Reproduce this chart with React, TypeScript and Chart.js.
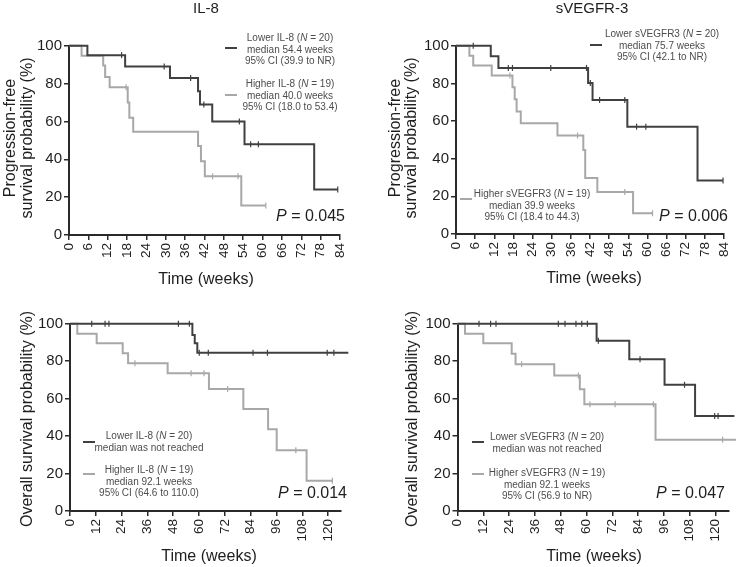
import React, { useEffect, useRef } from 'react';
import { Chart, registerables } from 'chart.js';
Chart.register(...registerables);

// ---------------- DATA ----------------
const yTicks = [0, 20, 40, 60, 80, 100];
const pfsTicks = [0, 6, 12, 18, 24, 30, 36, 42, 48, 54, 60, 66, 72, 78, 84];
const osTicks = [0, 12, 24, 36, 48, 60, 72, 84, 96, 108, 120];

const panelTitles = ['IL-8', 'sVEGFR-3'];
const il8Groups = ['Lower IL-8', 'Higher IL-8'];
const sv3Groups = ['Lower sVEGFR3', 'Higher sVEGFR3'];
const groupN = [20, 19];
const pfsIl8Stats = [['median 54.4 weeks', '95% CI (39.9 to NR)'], ['median 40.0 weeks', '95% CI (18.0 to 53.4)']];
const pfsSv3Stats = [['median 75.7 weeks', '95% CI (42.1 to NR)'], ['median 39.9 weeks', '95% CI (18.4 to 44.3)']];
const osIl8Stats = [['median was not reached'], ['median 92.1 weeks', '95% CI (64.6 to 110.0)']];
const osSv3Stats = [['median was not reached'], ['median 92.1 weeks', '95% CI (56.9 to NR)']];
const pValues = ['0.045', '0.006', '0.014', '0.047'];

// PFS by IL-8
const pfsIl8LowT = [5.7, 17.4, 31.3, 40.0, 40.6, 44.4, 54.4, 76.0];
const pfsIl8LowS = [95, 89, 83, 76, 69, 60, 48, 24];
const pfsIl8LowC = [16.3, 29.5, 37.7, 41.8, 52.8, 56.3, 58.7, 83.3];
const pfsIl8HighT = [3.9, 10.6, 11.2, 12.6, 18.2, 18.7, 19.9, 40.0, 40.9, 42.1, 53.4];
const pfsIl8HighS = [94.7, 89.5, 83.5, 78, 70, 62, 54.6, 47, 39, 31, 15.6];
const pfsIl8HighC = [17.7, 44.5, 52.4, 61.0];

// PFS by sVEGFR3
const pfsSv3LowT = [10.9, 13.3, 41.4, 42.8, 53.7, 75.7];
const pfsSv3LowS = [94.4, 88.2, 80.2, 71.2, 57.0, 28.4];
const pfsSv3LowC = [5.4, 16.4, 17.7, 29.7, 40.9, 42.1, 45.0, 52.9, 56.6, 59.5, 83.7];
const pfsSv3HighT = [4.2, 5.4, 11.2, 17.7, 18.4, 19.0, 20.3, 31.8, 39.9, 40.5, 44.3, 55.5];
const pfsSv3HighS = [94.7, 89.5, 84.2, 78, 71.5, 65, 58.8, 52.3, 44.6, 29.8, 22.3, 11];
const pfsSv3HighC = [16.9, 38.1, 52.9, 61.6];

// OS by IL-8
const osIl8LowT = [56.9, 58.0, 59.2];
const osIl8LowS = [94, 89.5, 84.5];
const osIl8LowC = [10.1, 16.3, 18.1, 50.4, 55.5, 60.1, 64.3, 85.1, 91.8, 119.6, 122.7, 129.4];
const osIl8HighT = [3.4, 12.4, 24.5, 27.0, 45.4, 64.6, 80.6, 92.1, 96.1, 110.0];
const osIl8HighS = [94.7, 89.5, 84.2, 78.9, 73.5, 65.1, 54.5, 43.6, 32.5, 16.2];
const osIl8HighC = [30.2, 56.3, 62.3, 73.3, 105.0, 122.0];

// OS by sVEGFR3
const osSv3LowT = [64.7, 79.9, 96.3, 110.5];
const osSv3LowS = [90.9, 81.0, 67.4, 50.7];
const osSv3LowC = [10.0, 15.4, 17.9, 46.9, 50.0, 55.1, 57.8, 60.4, 65.5, 84.9, 105.6, 119.6, 121.2, 128.8];
const osSv3HighT = [3.5, 12.0, 25.2, 27.0, 45.0, 56.9, 59.0, 92.1];
const osSv3HighS = [94.7, 89.5, 84.0, 78.4, 72.4, 65.0, 57.0, 38.1];
const osSv3HighC = [29.8, 56.2, 61.6, 73.3, 91.1, 123.3];
const osSv3HighEnd = 130;

// ---------------- STYLE ----------------
const FONT = "'Liberation Sans', Arial, Helvetica, sans-serif";
const DARK = '#404040';
const LIGHT = '#a8a8a8';
const AXIS = '#2a2a2a';
const TEXT = '#1e1e1e';
const LEG = '#4d4d4d';
const W = 736;
const H = 567;

type Curve = { t: number[]; s: number[]; c: number[]; end?: number; color: string };

function survAt(t: number[], s: number[], x: number) {
  let v = 100;
  t.forEach((tt, i) => { if (tt <= x) v = s[i]; });
  return v;
}

function curveDatasets(cv: Curve) {
  const pts = [{ x: 0, y: 100 }];
  cv.t.forEach((tt, i) => pts.push({ x: tt, y: cv.s[i] }));
  const last = Math.max(cv.end ?? 0, ...cv.c, cv.t[cv.t.length - 1]);
  pts.push({ x: last, y: cv.s[cv.s.length - 1] });
  return [
    {
      data: pts,
      stepped: 'before' as const,
      borderColor: cv.color,
      borderWidth: 2,
      pointRadius: 0,
      fill: false,
      clip: false as any,
    },
    {
      data: cv.c.map((x) => ({ x, y: survAt(cv.t, cv.s, x) })),
      showLine: false,
      pointStyle: 'line' as const,
      rotation: 90,
      pointRadius: 3,
      borderColor: cv.color,
      backgroundColor: cv.color,
      borderWidth: 1.2,
      clip: false as any,
    },
  ];
}

type Seg = { t: string; i?: boolean };

function drawRich(ctx: CanvasRenderingContext2D, segs: Seg[], x: number, y: number, size: number, color: string, align: 'left' | 'center' | 'right') {
  const widths = segs.map((s) => {
    ctx.font = `${s.i ? 'italic ' : ''}${size}px ${FONT}`;
    return ctx.measureText(s.t).width;
  });
  const total = widths.reduce((a, b) => a + b, 0);
  let cx = align === 'center' ? x - total / 2 : align === 'right' ? x - total : x;
  ctx.fillStyle = color;
  ctx.textAlign = 'left';
  ctx.textBaseline = 'middle';
  segs.forEach((s, k) => {
    ctx.font = `${s.i ? 'italic ' : ''}${size}px ${FONT}`;
    ctx.fillText(s.t, cx, y);
    cx += widths[k];
  });
}

type Legend = { x: number; y: number; sx: number; sy: number; color: string; group: string; n: number; lines: string[] };
type Ann = {
  title?: { text: string; x: number; y: number };
  yTitle: { lines: string[]; xs: number[]; y: number };
  xTitle: { x: number; y: number };
  legends: Legend[];
  p: { text: string; x: number; y: number };
};

const LEG_GAP = 11.8;

function annPlugin(ann: Ann) {
  return {
    id: 'ann',
    afterDraw(chart: any) {
      const ctx: CanvasRenderingContext2D = chart.ctx;
      ctx.save();
      if (ann.title) drawRich(ctx, [{ t: ann.title.text }], ann.title.x, ann.title.y, 15, TEXT, 'center');
      ann.yTitle.lines.forEach((ln, k) => {
        ctx.save();
        ctx.translate(ann.yTitle.xs[k], ann.yTitle.y);
        ctx.rotate(-Math.PI / 2);
        drawRich(ctx, [{ t: ln }], 0, 0, 16, TEXT, 'center');
        ctx.restore();
      });
      drawRich(ctx, [{ t: 'Time (weeks)' }], ann.xTitle.x, ann.xTitle.y, 16, TEXT, 'center');
      ann.legends.forEach((lg) => {
        ctx.strokeStyle = lg.color;
        ctx.lineWidth = 2;
        ctx.beginPath();
        ctx.moveTo(lg.sx, lg.sy);
        ctx.lineTo(lg.sx + 12, lg.sy);
        ctx.stroke();
        drawRich(ctx, [{ t: `${lg.group} (` }, { t: 'N', i: true }, { t: ` = ${lg.n})` }], lg.x, lg.y, 10, LEG, 'center');
        lg.lines.forEach((ln, k) => drawRich(ctx, [{ t: ln }], lg.x, lg.y + LEG_GAP * (k + 1), 10, LEG, 'center'));
      });
      drawRich(ctx, [{ t: 'P', i: true }, { t: ` = ${ann.p.text}` }], ann.p.x, ann.p.y, 16, TEXT, 'right');
      ctx.restore();
    },
  };
}

type PanelCfg = {
  area: { l: number; t: number; r: number; b: number };
  xMax: number;
  xTicks: number[];
  curves: Curve[];
  ann: Ann;
};

const Y_W = 45;
const X_H = 40;

function Panel({ cfg }: { cfg: PanelCfg }) {
  const ref = useRef<HTMLCanvasElement>(null);
  useEffect(() => {
    const gridCfg = { drawOnChartArea: false, drawTicks: true, tickLength: 5, color: AXIS, lineWidth: 1.5 };
    const borderCfg = { display: true, color: AXIS, width: 2 };
    const a = cfg.area;
    const chart = new Chart(ref.current as HTMLCanvasElement, {
      type: 'line',
      data: { datasets: cfg.curves.flatMap((cv) => curveDatasets(cv)) as any },
      options: {
        responsive: false,
        animation: false,
        devicePixelRatio: 1,
        events: [],
        layout: { padding: { left: a.l - Y_W, top: a.t, right: W - a.r, bottom: H - a.b - X_H } },
        plugins: { legend: { display: false }, tooltip: { enabled: false }, title: { display: false } },
        scales: {
          x: {
            type: 'linear',
            min: 0,
            max: cfg.xMax,
            afterBuildTicks: (s: any) => { s.ticks = cfg.xTicks.map((v) => ({ value: v })); },
            afterFit: (s: any) => { s.height = X_H; s.paddingLeft = 0; s.paddingRight = 0; },
            ticks: { minRotation: 90, maxRotation: 90, autoSkip: false, font: { family: FONT, size: 13.5 }, color: TEXT, padding: 3 },
            grid: gridCfg,
            border: borderCfg,
          },
          y: {
            min: 0,
            max: 100,
            afterBuildTicks: (s: any) => { s.ticks = yTicks.map((v) => ({ value: v })); },
            afterFit: (s: any) => { s.width = Y_W; s.paddingTop = 0; s.paddingBottom = 0; },
            ticks: { font: { family: FONT, size: 15 }, color: TEXT, padding: 2 },
            grid: gridCfg,
            border: borderCfg,
          },
        },
      } as any,
      plugins: [annPlugin(cfg.ann)],
    });
    return () => chart.destroy();
  }, []);
  return <canvas ref={ref} width={W} height={H} style={{ position: 'absolute', left: 0, top: 0, width: W, height: H }} />;
}

const panels: PanelCfg[] = [
  {
    area: { l: 69, t: 45.7, r: 340, b: 235 },
    xMax: 84,
    xTicks: pfsTicks,
    curves: [
      { t: pfsIl8LowT, s: pfsIl8LowS, c: pfsIl8LowC, color: DARK },
      { t: pfsIl8HighT, s: pfsIl8HighS, c: pfsIl8HighC, color: LIGHT },
    ],
    ann: {
      title: { text: panelTitles[0], x: 206, y: 9 },
      yTitle: { lines: ['Progression-free', 'survival probability (%)'], xs: [11, 28], y: 138 },
      xTitle: { x: 206, y: 280 },
      legends: [
        { x: 290, y: 38, sx: 225, sy: 48, color: DARK, group: il8Groups[0], n: groupN[0], lines: pfsIl8Stats[0] },
        { x: 290, y: 84, sx: 225, sy: 95, color: LIGHT, group: il8Groups[1], n: groupN[1], lines: pfsIl8Stats[1] },
      ],
      p: { text: pValues[0], x: 345, y: 217 },
    },
  },
  {
    area: { l: 456, t: 45.7, r: 724, b: 234 },
    xMax: 84,
    xTicks: pfsTicks,
    curves: [
      { t: pfsSv3LowT, s: pfsSv3LowS, c: pfsSv3LowC, color: DARK },
      { t: pfsSv3HighT, s: pfsSv3HighS, c: pfsSv3HighC, color: LIGHT },
    ],
    ann: {
      title: { text: panelTitles[1], x: 592, y: 9 },
      yTitle: { lines: ['Progression-free', 'survival probability (%)'], xs: [396, 412], y: 138 },
      xTitle: { x: 594, y: 279 },
      legends: [
        { x: 662, y: 34, sx: 590, sy: 45, color: DARK, group: sv3Groups[0], n: groupN[0], lines: pfsSv3Stats[0] },
        { x: 532, y: 194, sx: 460, sy: 199, color: LIGHT, group: sv3Groups[1], n: groupN[1], lines: pfsSv3Stats[1] },
      ],
      p: { text: pValues[1], x: 728, y: 217 },
    },
  },
  {
    area: { l: 70, t: 323.7, r: 341, b: 511 },
    xMax: 126,
    xTicks: osTicks,
    curves: [
      { t: osIl8LowT, s: osIl8LowS, c: osIl8LowC, color: DARK },
      { t: osIl8HighT, s: osIl8HighS, c: osIl8HighC, color: LIGHT },
    ],
    ann: {
      yTitle: { lines: ['Overall survival probability (%)'], xs: [28], y: 419 },
      xTitle: { x: 209, y: 557 },
      legends: [
        { x: 149, y: 436, sx: 83, sy: 442, color: DARK, group: il8Groups[0], n: groupN[0], lines: osIl8Stats[0] },
        { x: 149, y: 470, sx: 83, sy: 474, color: LIGHT, group: il8Groups[1], n: groupN[1], lines: osIl8Stats[1] },
      ],
      p: { text: pValues[2], x: 347, y: 494 },
    },
  },
  {
    area: { l: 457.5, t: 323.7, r: 728.4, b: 511 },
    xMax: 126,
    xTicks: osTicks,
    curves: [
      { t: osSv3LowT, s: osSv3LowS, c: osSv3LowC, color: DARK },
      { t: osSv3HighT, s: osSv3HighS, c: osSv3HighC, end: osSv3HighEnd, color: LIGHT },
    ],
    ann: {
      yTitle: { lines: ['Overall survival probability (%)'], xs: [413], y: 419 },
      xTitle: { x: 594, y: 557 },
      legends: [
        { x: 547, y: 437, sx: 472, sy: 442, color: DARK, group: sv3Groups[0], n: groupN[0], lines: osSv3Stats[0] },
        { x: 547, y: 473, sx: 472, sy: 474, color: LIGHT, group: sv3Groups[1], n: groupN[1], lines: osSv3Stats[1] },
      ],
      p: { text: pValues[3], x: 725, y: 494 },
    },
  },
];

export default function App() {
  return (
    <div style={{ position: 'fixed', left: 0, top: 0, width: W, height: H, background: '#fff', overflow: 'hidden' }}>
      {panels.map((p, i) => (
        <Panel key={i} cfg={p} />
      ))}
    </div>
  );
}
